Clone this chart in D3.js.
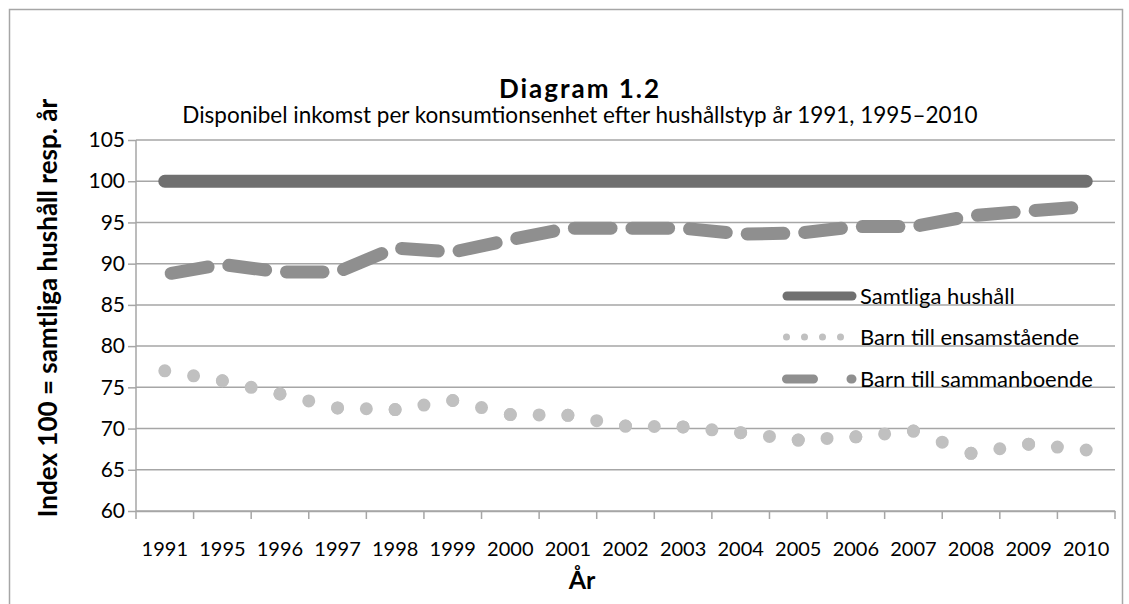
<!DOCTYPE html>
<html>
<head>
<meta charset="utf-8">
<script src="https://cdn.jsdelivr.net/npm/d3@7"></script>
<style>
  body { margin: 0; background: #fff; }
  text { font-family: "Lato", "Open Sans", sans-serif; fill: #000; }
</style>
</head>
<body>
<div id="chart"></div>
<script>
// Data
var years = ["1991", "1995", "1996", "1997", "1998", "1999", "2000", "2001", "2002",
  "2003", "2004", "2005", "2006", "2007", "2008", "2009", "2010"];
var samtliga = [100, 100, 100, 100, 100, 100, 100, 100, 100, 100, 100, 100, 100, 100, 100, 100, 100];
var ensamstaende = [77.0, 75.8, 74.2, 72.5, 72.3, 73.4, 71.7, 71.6, 70.3, 70.2, 69.5, 68.6, 69.0, 69.7, 67.0, 68.1, 67.4];
var sammanboende = [88.7, 89.9, 89.0, 89.0, 91.9, 91.4, 92.9, 94.3, 94.3, 94.3, 93.6, 93.7, 94.5, 94.5, 95.8, 96.4, 96.9];
var yTicks = [60, 65, 70, 75, 80, 85, 90, 95, 100, 105];
var legendNames = ["Samtliga hushåll", "Barn till ensamstående", "Barn till sammanboende"];

// Set up chart
var svgWidth = 1129;
var svgHeight = 604;
var margin = {top: 140, right: 14, bottom: 93, left: 136};
var width = svgWidth - margin.left - margin.right;
var height = svgHeight - margin.top - margin.bottom;

var svg = d3.select("#chart")
  .append("svg")
  .attr("width", svgWidth)
  .attr("height", svgHeight);

// outer frame
svg.append("rect")
  .attr("x", 9.5)
  .attr("y", 9.5)
  .attr("width", 1113)
  .attr("height", 620)
  .attr("fill", "none")
  .attr("stroke", "#a6a6a6")
  .attr("stroke-width", 1.5);

var chartGroup = svg.append("g")
  .attr("transform", "translate(" + margin.left + "," + margin.top + ")");

var xScale = d3.scaleBand().domain(years).range([0, width]);
var yScale = d3.scaleLinear().domain([60, 105]).range([height, 0]);
var cx = function(d) { return xScale(d) + xScale.bandwidth() / 2; };

// gridlines
chartGroup.append("g")
  .selectAll("line")
  .data(yTicks)
  .enter()
  .append("line")
  .attr("x1", 0)
  .attr("x2", width)
  .attr("y1", d => yScale(d))
  .attr("y2", d => yScale(d))
  .attr("stroke", "#a6a6a6")
  .attr("stroke-width", 1.5);

// y axis
var leftAxis = d3.axisLeft(yScale).tickValues(yTicks).tickSize(8).tickPadding(3);
var yAxis = chartGroup.append("g").call(leftAxis);
yAxis.selectAll("path, line").attr("stroke", "#a6a6a6").attr("stroke-width", 1.5);
yAxis.select(".domain").attr("d", "M0," + height + "V0");
yAxis.selectAll("text").style("font-size", "21px").attr("fill", "#000");

// x axis
var bottomAxis = d3.axisBottom(xScale).tickSize(0);
var xAxis = chartGroup.append("g")
  .attr("transform", "translate(0," + height + ")")
  .call(bottomAxis);
xAxis.select(".domain").attr("stroke", "#a6a6a6").attr("stroke-width", 1.5);
xAxis.selectAll("text")
  .attr("y", 45)
  .attr("dy", null)
  .style("font-size", "20px")
  .attr("fill", "#000");

// tick marks between categories
var bounds = years.map(d => xScale(d)).concat([width]);
xAxis.selectAll(".sep")
  .data(bounds)
  .enter()
  .append("line")
  .attr("class", "sep")
  .attr("x1", d => d)
  .attr("x2", d => d)
  .attr("y1", 0)
  .attr("y2", 8)
  .attr("stroke", "#a6a6a6")
  .attr("stroke-width", 1.5);

var line = d3.line()
  .x((d, i) => cx(years[i]))
  .y(d => yScale(d));

// Samtliga hushåll - solid
chartGroup.append("path")
  .datum(samtliga)
  .attr("d", line)
  .attr("fill", "none")
  .attr("stroke", "#707070")
  .attr("stroke-width", 13)
  .attr("stroke-linecap", "round");

// segments so each one starts its own pattern, like the original
function segments(values) {
  return d3.pairs(values.map((v, i) => [cx(years[i]), yScale(v)]));
}
var segLine = d3.line();

// Barn till sammanboende - dashed
chartGroup.append("g")
  .selectAll("path")
  .data(segments(sammanboende))
  .enter()
  .append("path")
  .attr("d", d => segLine(d))
  .attr("fill", "none")
  .attr("stroke", "#8f8f8f")
  .attr("stroke-width", 13)
  .attr("stroke-linecap", "round")
  .each(function() {
    var len = this.getTotalLength();
    d3.select(this)
      .attr("stroke-dasharray", (len - 21) + "," + (len + 21))
      .attr("stroke-dashoffset", -6.5);
  });

// Barn till ensamstående - round dots
chartGroup.append("g")
  .selectAll("path")
  .data(segments(ensamstaende))
  .enter()
  .append("path")
  .attr("d", d => segLine(d))
  .attr("fill", "none")
  .attr("stroke", "#c0c0c0")
  .attr("stroke-width", 13)
  .attr("stroke-linecap", "round")
  .each(function() {
    var len = this.getTotalLength();
    d3.select(this).attr("stroke-dasharray", "0," + (len / 2 - 0.01));
  });

// Legend
var legend = svg.append("g");
var legendY = [296, 337, 379];

legend.append("line")
  .attr("x1", 787).attr("x2", 852)
  .attr("y1", legendY[0]).attr("y2", legendY[0])
  .attr("stroke", "#707070").attr("stroke-width", 9).attr("stroke-linecap", "round");

legend.append("line")
  .attr("x1", 786.5).attr("x2", 841.5)
  .attr("y1", legendY[1]).attr("y2", legendY[1])
  .attr("stroke", "#c0c0c0").attr("stroke-width", 7).attr("stroke-linecap", "round")
  .attr("stroke-dasharray", "0,18");

legend.append("line")
  .attr("x1", 786.5).attr("x2", 852)
  .attr("y1", legendY[2]).attr("y2", legendY[2])
  .attr("stroke", "#8f8f8f").attr("stroke-width", 9).attr("stroke-linecap", "round")
  .attr("stroke-dasharray", "27,37.5");

legend.selectAll("text")
  .data(legendNames)
  .enter()
  .append("text")
  .attr("x", 860)
  .attr("y", (d, i) => legendY[i] + 8)
  .style("font-size", "22px")
  .text(d => d);

// Titles
svg.append("text")
  .attr("x", 580)
  .attr("y", 98)
  .attr("text-anchor", "middle")
  .style("font-size", "26px")
  .style("font-weight", "bold")
  .style("letter-spacing", "2px")
  .text("Diagram 1.2");

svg.append("text")
  .attr("x", 580)
  .attr("y", 123)
  .attr("text-anchor", "middle")
  .style("font-size", "22.5px")
  .text("Disponibel inkomst per konsumtionsenhet efter hushållstyp år 1991, 1995–2010");

// axis titles
svg.append("text")
  .attr("x", 582)
  .attr("y", 589)
  .attr("text-anchor", "middle")
  .style("font-size", "25px")
  .style("font-weight", "bold")
  .text("År");

svg.append("text")
  .attr("transform", "rotate(-90)")
  .attr("x", -308)
  .attr("y", 57)
  .attr("text-anchor", "middle")
  .style("font-size", "26px")
  .style("font-weight", "bold")
  .text("Index 100 = samtliga hushåll resp. år");
</script>
</body>
</html>
